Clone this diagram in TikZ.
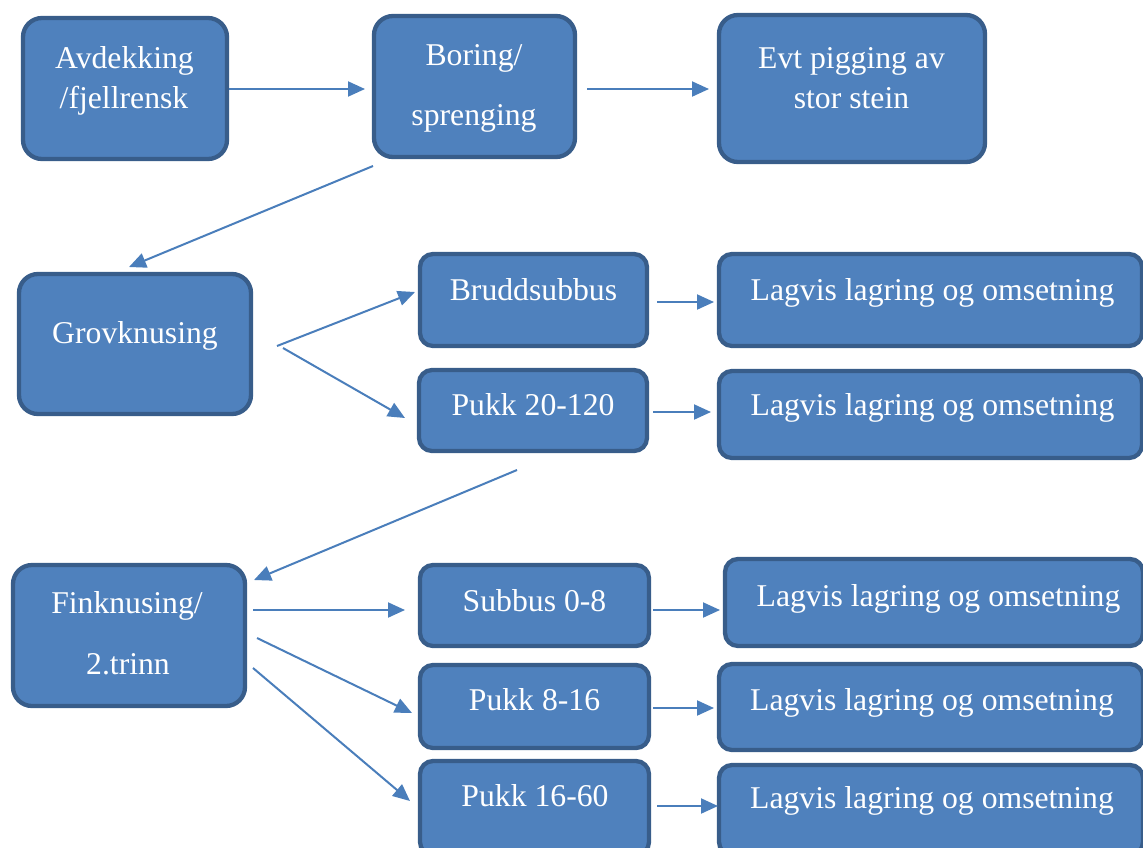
\documentclass[tikz,border=0pt]{standalone}
\usepackage{fontspec}
\setmainfont{Liberation Serif}
\usetikzlibrary{arrows.meta}
\definecolor{boxfill}{HTML}{4F81BD}
\definecolor{boxline}{HTML}{385D8A}
\definecolor{arrcol}{HTML}{4A7EBB}
\tikzset{
  bigbox/.style={draw=boxline, fill=boxfill, line width=4.3pt, rounded corners=19pt, inner sep=0pt},
  smallbox/.style={draw=boxline, fill=boxfill, line width=4.3pt, rounded corners=13pt, inner sep=0pt},
  txt/.style={text=white, anchor=base, inner sep=0pt, font=\fontsize{31.7}{38}\selectfont},
  arr/.style={draw=arrcol, line width=2pt, -{Triangle[length=17pt,width=15pt]}}
}
\begin{document}
\begin{tikzpicture}[x=1pt,y=-1pt]
\useasboundingbox (0,0) rectangle (1143,847);
\clip (0,0) rectangle (1143,847);
% boxes
\node[bigbox, minimum width=204pt, minimum height=141pt] (b1) at (125,88.5) {};
\node[bigbox, minimum width=201pt, minimum height=141pt] (b2) at (474.5,86.5) {};
\node[bigbox, minimum width=266pt, minimum height=147pt] (b3) at (852,88.5) {};
\node[bigbox, minimum width=232pt, minimum height=140pt] (b4) at (135,344) {};
\node[smallbox, minimum width=227pt, minimum height=92pt] (b5) at (533.5,300) {};
\node[smallbox, minimum width=228pt, minimum height=81pt] (b6) at (533,410.5) {};
\node[smallbox, minimum width=423pt, minimum height=92pt] (b7) at (930.5,300) {};
\node[smallbox, minimum width=423pt, minimum height=87pt] (b8) at (930.5,414.5) {};
\node[bigbox, minimum width=232pt, minimum height=141pt] (b9) at (129,635.5) {};
\node[smallbox, minimum width=229pt, minimum height=81pt] (b10) at (534.5,605.5) {};
\node[smallbox, minimum width=418pt, minimum height=87pt] (b11) at (934,602.5) {};
\node[smallbox, minimum width=229pt, minimum height=83pt] (b12) at (534.5,706.5) {};
\node[smallbox, minimum width=424pt, minimum height=86pt] (b13) at (931,707) {};
\node[smallbox, minimum width=229pt, minimum height=94pt] (b14) at (534.5,808) {};
\node[smallbox, minimum width=424pt, minimum height=90pt] (b15) at (931,810) {};
% texts
\node[txt] (t1a) at (124.5,68) {Avdekking};
\node[txt] (t1b) at (124,108) {/fjellrensk};
\node[txt] (t2a) at (474,65) {Boring/};
\node[txt] (t2b) at (474,125) {sprenging};
\node[txt] (t3a) at (851.5,68) {Evt pigging av};
\node[txt] (t3b) at (851.5,108) {stor stein};
\node[txt] (t4) at (135,343) {Grovknusing};
\node[txt] (t5) at (533.5,300) {Bruddsubbus};
\node[txt] (t6) at (533,415) {Pukk 20-120};
\node[txt] (t7) at (932.5,300) {Lagvis lagring og omsetning};
\node[txt] (t8) at (932.5,415) {Lagvis lagring og omsetning};
\node[txt] (t9a) at (127,613) {Finknusing/};
\node[txt] (t9b) at (128,674) {2.trinn};
\node[txt] (t10) at (534.5,611) {Subbus 0-8};
\node[txt] (t11) at (938.5,606) {Lagvis lagring og omsetning};
\node[txt] (t12) at (534.5,710) {Pukk 8-16};
\node[txt] (t13) at (932,710) {Lagvis lagring og omsetning};
\node[txt] (t14) at (535,806) {Pukk 16-60};
\node[txt] (t15) at (932,808) {Lagvis lagring og omsetning};
% connector end points
\coordinate (a1s) at (229,89);  \coordinate (a1e) at (365,89);
\coordinate (a2s) at (587,89);  \coordinate (a2e) at (709,89);
\coordinate (a3s) at (373,166); \coordinate (a3e) at (129,267);
\coordinate (a4s) at (277,346); \coordinate (a4e) at (415,292);
\coordinate (a5s) at (283,348); \coordinate (a5e) at (405,418);
\coordinate (a6s) at (657,302); \coordinate (a6e) at (714,302);
\coordinate (a7s) at (653,412); \coordinate (a7e) at (711,412);
\coordinate (a8s) at (517,470); \coordinate (a8e) at (254,580);
\coordinate (a9s) at (253,610); \coordinate (a9e) at (405,610);
\coordinate (a10s) at (257,638); \coordinate (a10e) at (412,713);
\coordinate (a11s) at (253,668); \coordinate (a11e) at (410,801);
\coordinate (a12s) at (653,610); \coordinate (a12e) at (720,610);
\coordinate (a13s) at (653,708); \coordinate (a13e) at (714,708);
\coordinate (a14s) at (657,806); \coordinate (a14e) at (718,806);
\foreach \i in {1,...,14} {\draw[arr] (a\i s) -- (a\i e);}
\end{tikzpicture}
\end{document}
